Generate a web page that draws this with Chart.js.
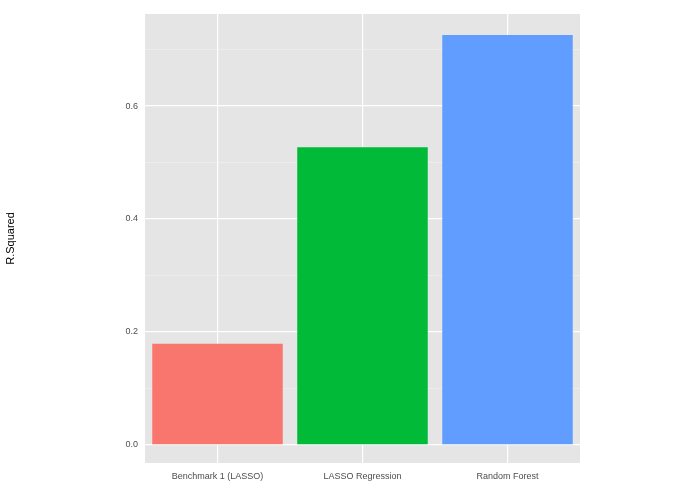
<!DOCTYPE html>
<html><head><meta charset="utf-8">
<script src="https://cdn.jsdelivr.net/npm/chart.js@4"></script>
<style>html,body{margin:0;padding:0;background:#fff}#w{width:695px;height:494px}</style>
</head><body><div id="w"><canvas id="c"></canvas></div>
<script>
const categories = ["Benchmark 1 (LASSO)", "LASSO Regression", "Random Forest"];
const rSquared = [0.179, 0.527, 0.726];
const barColors = ["#F8766D", "#00BA38", "#619CFF"];
const yTicks = [0, 0.1, 0.2, 0.3, 0.4, 0.5, 0.6, 0.7];

const bg = {id:'bg', beforeDraw(ch){const a=ch.chartArea,c=ch.ctx;c.save();c.fillStyle='#E5E5E5';c.fillRect(a.left,a.top,a.right-a.left,a.bottom-a.top);c.restore();}};
new Chart(document.getElementById('c'), {
  type:'bar',
  data:{labels:categories, datasets:[{data:rSquared, backgroundColor:barColors, categoryPercentage:0.9, barPercentage:1}]},
  options:{
    responsive:true, maintainAspectRatio:false, animation:false,
    layout:{padding:{left:0,right:115,top:14,bottom:0}},
    plugins:{legend:{display:false}, tooltip:{enabled:false}},
    scales:{
      x:{offset:true, grid:{offset:false, color:'#fff', lineWidth:1.2, drawTicks:false}, border:{display:false},
         ticks:{color:'#4D4D4D', font:{family:'Liberation Sans', size:9}, padding:8},
         afterFit(s){s.height=31;}},
      y:{min:-0.032, max:0.763, afterBuildTicks(s){s.ticks=yTicks.map(v=>({value:v}));},
         grid:{color:c=>(Math.round(c.tick.value*10)%2===0)?'#fff':'#F2F2F2', lineWidth:c=>(Math.round(c.tick.value*10)%2===0)?1.2:0.6, drawTicks:false},
         border:{display:false},
         ticks:{color:'#4D4D4D', font:{family:'Liberation Sans', size:9}, padding:7, callback:v=>(Math.round(v*10)%2===0)?v.toFixed(1):''},
         title:{display:true, text:'R.Squared', color:'#000', font:{family:'Liberation Sans', size:11}, padding:{bottom:8}},
         afterFit(s){s.width=145;}}
    }
  },
  plugins:[bg]
});
</script></body></html>
